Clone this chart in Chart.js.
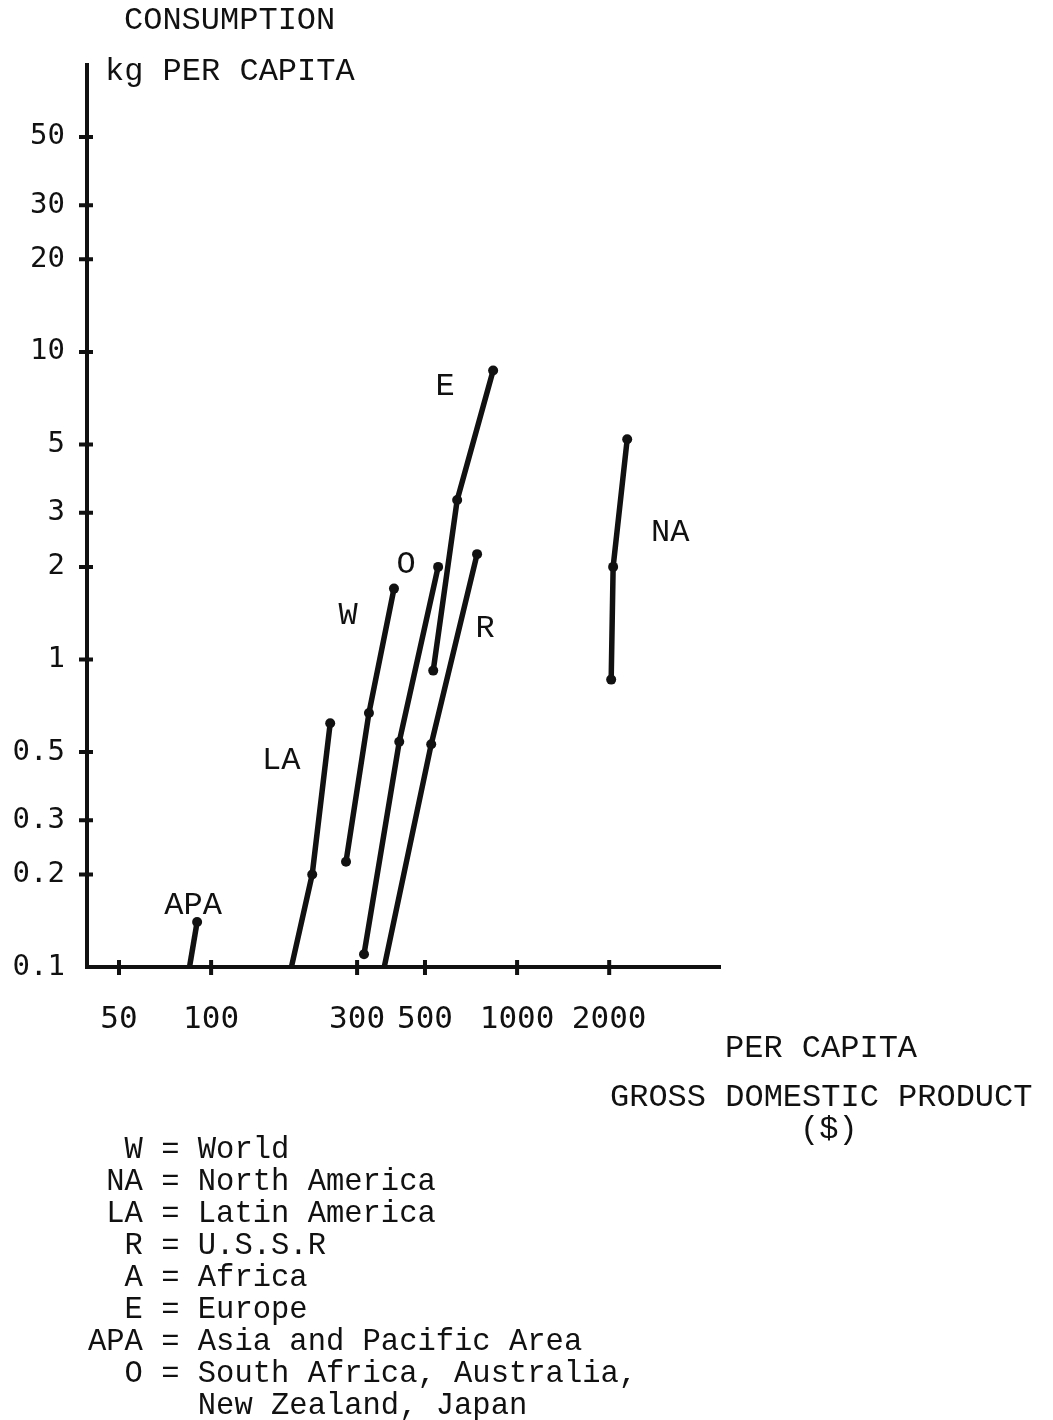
<!DOCTYPE html>
<html>
<head>
<meta charset="utf-8">
<script src="https://cdn.jsdelivr.net/npm/chart.js@4.4.1/dist/chart.umd.min.js"></script>
<style>
  body { margin: 0; background: #fff; }
  #wrap { position: relative; width: 1053px; height: 1420px; }
  canvas { position: absolute; left: 0; top: 0; }
  .t { position: absolute; font-family: "Liberation Mono", monospace; font-size: 32px; line-height: 32px; color: #111; white-space: pre; }
  .key { font-size: 30.5px; }
</style>
</head>
<body>
<div id="wrap">
  <canvas id="app-chart" width="1053" height="1420"></canvas>
  <div class="t" style="left:124px;top:5px">CONSUMPTION</div>
  <div class="t" style="left:105px;top:56px">kg PER CAPITA</div>
  <div class="t" style="left:725px;top:1033px">PER CAPITA</div>
  <div class="t" style="left:610px;top:1082px">GROSS DOMESTIC PRODUCT</div>
  <div class="t" style="left:800px;top:1114px">($)</div>
  <div class="t key" style="left:88px;top:1134px">  W = World
 NA = North America
 LA = Latin America
  R = U.S.S.R
  A = Africa
  E = Europe
APA = Asia and Pacific Area
  O = South Africa, Australia,
      New Zealand, Japan</div>
</div>
<script>
//======================================================================================================================
// Data (per capita GDP in $, consumption in kg per capita)
//======================================================================================================================

var xTicks = [50, 100, 300, 500, 1000, 2000];
var yTicks = [50, 30, 20, 10, 5, 3, 2, 1, 0.5, 0.3, 0.2, 0.1];

var regions = ['APA', 'LA', 'W', 'O', 'E', 'R', 'NA'];

var apaGdp = [85, 90],         apaKg = [0.1, 0.14];
var laGdp  = [183, 214, 245],  laKg  = [0.1, 0.2, 0.62];
var wGdp   = [276, 328, 396],  wKg   = [0.22, 0.67, 1.7];
var oGdp   = [316, 412, 552],  oKg   = [0.11, 0.54, 2.0];
var eGdp   = [532, 637, 835],  eKg   = [0.92, 3.3, 8.7];
var rGdp   = [368, 524, 740],  rKg   = [0.1, 0.53, 2.2];
var naGdp  = [2030, 2060, 2290], naKg = [0.86, 2.0, 5.2];

//======================================================================================================================
// Chart
//======================================================================================================================

var series = [[apaGdp, apaKg], [laGdp, laKg], [wGdp, wKg], [oGdp, oKg], [eGdp, eKg], [rGdp, rKg], [naGdp, naKg]];

// where each region's name sits, relative to its last point (px)
var labelOffset = {APA: [-4, -19], LA: [-49, 35], W: [-46, 25], O: [-32, -4], E: [-48, 14], R: [8, 72], NA: [43, 91]};

var ink = '#111';

var datasets = series.map(function(s, i) {
    return {
        label: regions[i],
        data: s[0].map(function(x, j) { return {x: x, y: s[1][j]}; }),
        showLine: true,
        borderColor: ink,
        backgroundColor: ink,
        borderWidth: 5.5,
        pointRadius: function(ctx) { return ctx.raw && ctx.raw.y <= 0.1 ? 0 : 5; },
        pointBorderWidth: 0,
        clip: false
    };
});

var tickMarks = {
    id: 'tickMarks',
    afterDatasetsDraw: function(chart) {
        var c = chart.ctx, xs = chart.scales.x, ys = chart.scales.y;
        c.save();
        c.strokeStyle = ink;
        c.lineWidth = 4;
        c.beginPath();
        xTicks.forEach(function(v) {
            var px = xs.getPixelForValue(v);
            c.moveTo(px, ys.bottom - 7);
            c.lineTo(px, ys.bottom + 8);
        });
        yTicks.forEach(function(v) {
            if (v <= 0.1) return;
            var py = ys.getPixelForValue(v);
            c.moveTo(xs.left - 8, py);
            c.lineTo(xs.left + 6, py);
        });
        c.stroke();

        c.fillStyle = ink;
        c.font = '32px "Liberation Mono", monospace';
        c.textAlign = 'center';
        c.textBaseline = 'middle';
        chart.data.datasets.forEach(function(ds, i) {
            var pt = chart.getDatasetMeta(i).data[ds.data.length - 1];
            var off = labelOffset[ds.label];
            c.fillText(ds.label, pt.x + off[0], pt.y + off[1] + 2);
        });
        c.restore();
    }
};

new Chart(document.getElementById('app-chart'), {
    type: 'scatter',
    data: {datasets: datasets},
    plugins: [tickMarks],
    options: {
        responsive: false,
        animation: false,
        layout: {padding: {top: 65, right: 333, left: 0, bottom: 0}},
        plugins: {
            legend: {display: false},
            tooltip: {enabled: false}
        },
        scales: {
            x: {
                type: 'logarithmic',
                min: 39.3,
                max: 4604,
                afterFit: function(scale) { scale.height = 453; },
                afterBuildTicks: function(scale) {
                    scale.ticks = xTicks.map(function(v) { return {value: v}; });
                },
                grid: {display: false, drawTicks: false},
                border: {display: true, color: ink, width: 4},
                ticks: {
                    autoSkip: false,
                    maxRotation: 0,
                    padding: 34,
                    color: ink,
                    font: {family: '"DejaVu Sans Mono", monospace', size: 31},
                    callback: function(v) { return String(v); }
                }
            },
            y: {
                type: 'logarithmic',
                min: 0.1,
                max: 85.7,
                afterFit: function(scale) { scale.width = 87; },
                afterBuildTicks: function(scale) {
                    scale.ticks = yTicks.map(function(v) { return {value: v}; });
                },
                grid: {display: false, drawTicks: false},
                border: {display: true, color: ink, width: 4},
                ticks: {
                    autoSkip: false,
                    padding: 22,
                    color: ink,
                    font: {family: '"DejaVu Sans Mono", monospace', size: 29},
                    callback: function(v) { return String(v); }
                }
            }
        }
    }
});
</script>
</body>
</html>
